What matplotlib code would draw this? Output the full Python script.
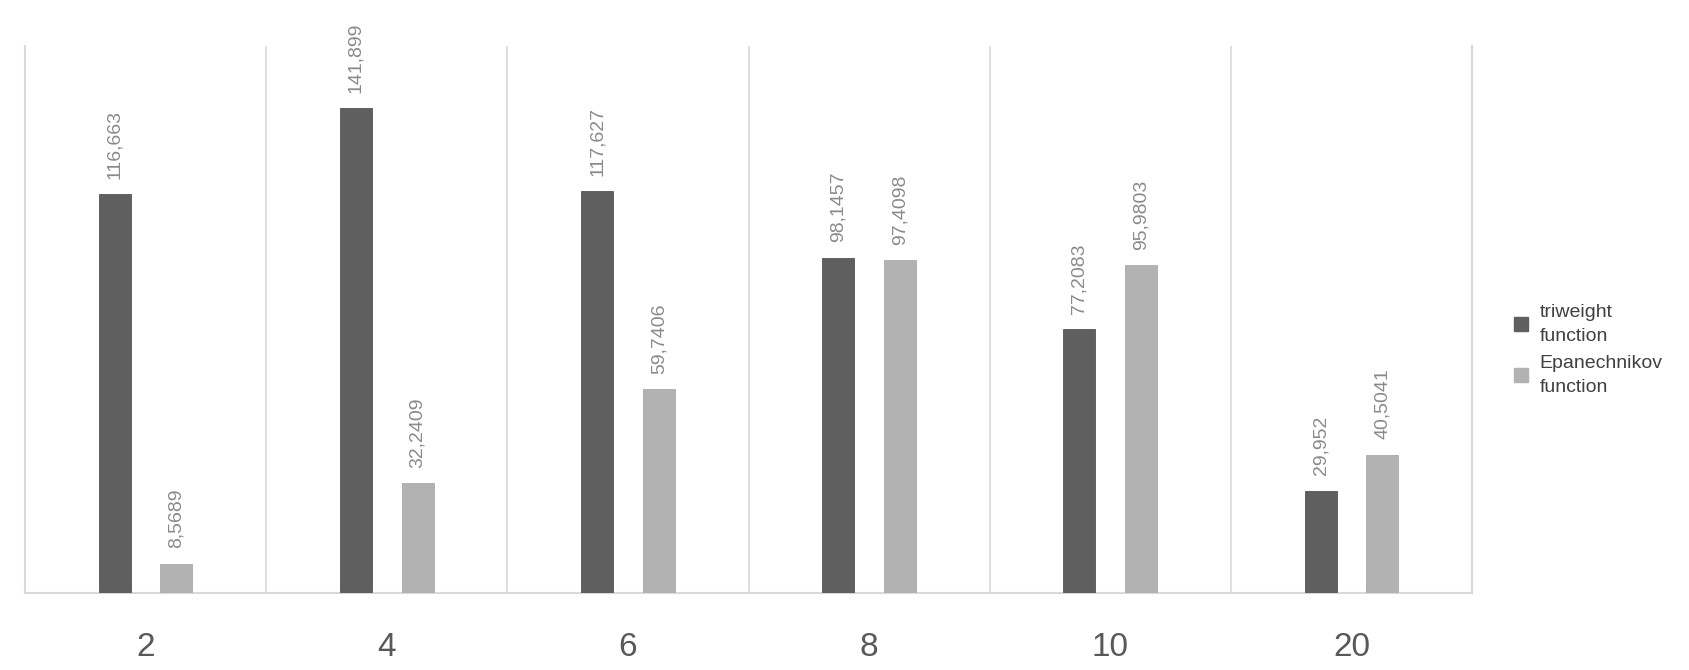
"""Grouped bar chart: triweight vs Epanechnikov function."""

import matplotlib
matplotlib.use("Agg")
import matplotlib.pyplot as plt
from matplotlib.patches import Patch
import numpy as np

categories = ["2", "4", "6", "8", "10", "20"]
triweight = [116.663, 141.899, 117.627, 98.1457, 77.2083, 29.952]
epanechnikov = [8.5689, 32.2409, 59.7406, 97.4098, 95.9803, 40.5041]
triweight_labels = ["116,663", "141,899", "117,627", "98,1457", "77,2083", "29,952"]
epanechnikov_labels = ["8,5689", "32,2409", "59,7406", "97,4098", "95,9803", "40,5041"]
series_names = ["triweight\nfunction", "Epanechnikov\nfunction"]

DARK = "#5f5f5f"
LIGHT = "#b2b2b2"
GRID = "#d9d9d9"

plt.rcParams["font.family"] = ["Liberation Sans", "DejaVu Sans"]

fig = plt.figure(figsize=(16.9, 6.7), dpi=100)
ax = fig.add_axes([0.0148, 0.115, 0.8562, 0.816])

x = np.arange(len(categories))
offset = 0.128
width = 0.133

bars_a = ax.bar(x - offset, triweight, width, color=DARK, edgecolor="#555555", linewidth=0.6, zorder=3)
bars_b = ax.bar(x + offset, epanechnikov, width, color=LIGHT, edgecolor="#aaaaaa", linewidth=0.6, zorder=3)

# rotated value labels above bars
for bars, labels in ((bars_a, triweight_labels), (bars_b, epanechnikov_labels)):
    for bar, lab in zip(bars, labels):
        ax.annotate(lab, (bar.get_x() + bar.get_width() / 2, bar.get_height()),
                    xytext=(0, 11), textcoords="offset points",
                    rotation=90, ha="center", va="bottom",
                    fontsize=14, color="#8a8a8a")

# group separators
for i in range(len(categories) - 1):
    ax.axvline(i + 0.5, color=GRID, linewidth=1.2, zorder=1)

ax.set_xlim(-0.5, len(categories) - 0.5)
ax.set_ylim(0, 160)
ax.set_yticks([])
ax.set_xticks(x)
ax.set_xticklabels(categories, fontsize=24, color="#595959")
ax.tick_params(axis="x", length=0, pad=28)

for side in ("left", "right", "bottom"):
    ax.spines[side].set_color(GRID)
    ax.spines[side].set_linewidth(1.5)
ax.spines["top"].set_visible(False)

handles = [Patch(facecolor=DARK, edgecolor=DARK), Patch(facecolor=LIGHT, edgecolor=LIGHT)]
leg = fig.legend(handles, series_names, loc="center left",
                 bbox_to_anchor=(1514 / 1690, 0.478), frameon=False,
                 fontsize=14, handlelength=0.7, handleheight=0.7,
                 handletextpad=0.6, labelspacing=0.5, borderpad=0,
                 borderaxespad=0, labelcolor="#404040")
for t in leg.get_texts():
    t.set_linespacing(1.55)

fig.savefig("out.png", dpi=100, facecolor="white")
